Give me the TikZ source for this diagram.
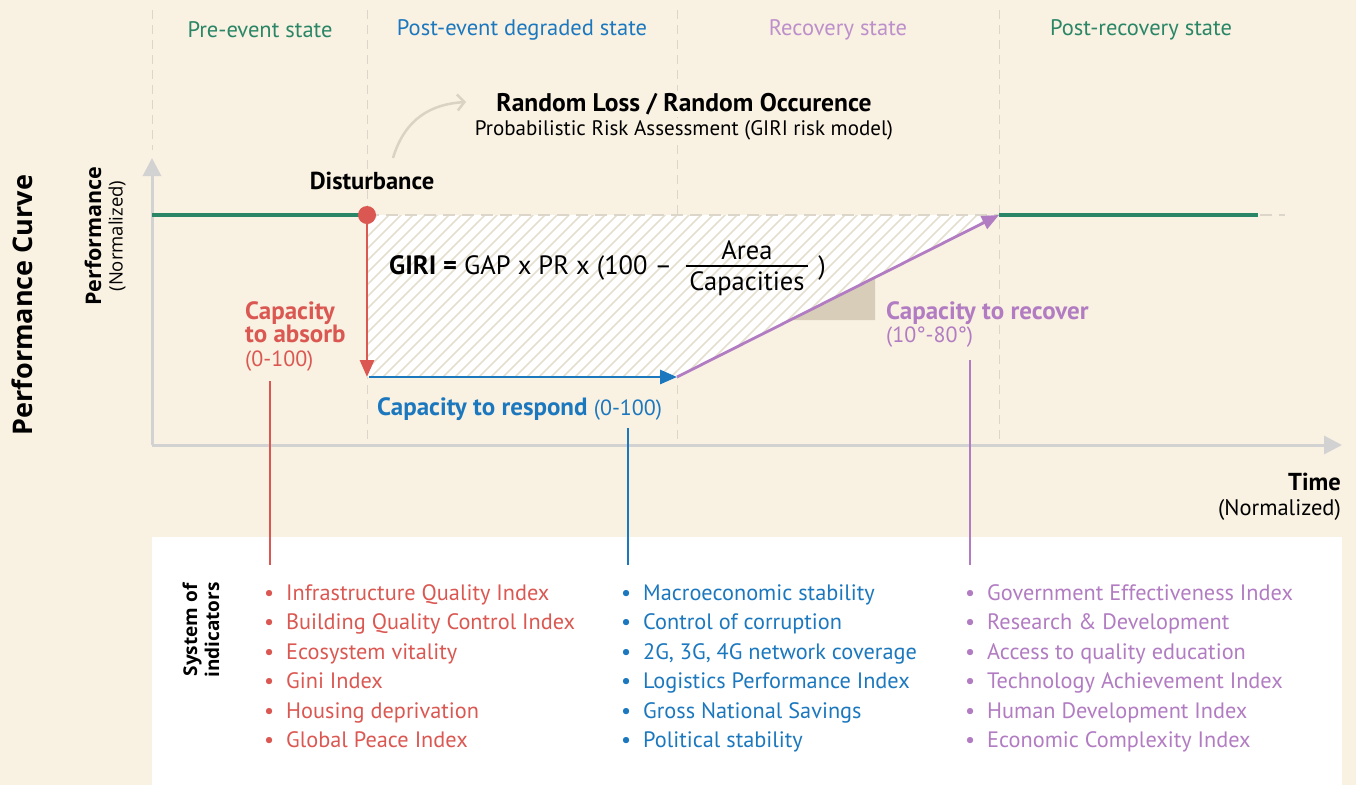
\documentclass[tikz,border=0pt]{standalone}
\usepackage{fontspec}
\setmainfont{PT Sans}
\newfontfamily\widefont{Open Sans}
\usetikzlibrary{arrows.meta}
\definecolor{bgcream}{RGB}{249,241,226}
\definecolor{girired}{RGB}{219,88,82}
\definecolor{giriblue}{RGB}{28,120,190}
\definecolor{giripurple}{RGB}{178,124,194}
\definecolor{girigreen}{RGB}{42,134,102}
\definecolor{axisgray}{RGB}{210,210,210}
\definecolor{dashgray}{RGB}{220,214,202}
\definecolor{hatchtan}{RGB}{230,223,207}
\definecolor{slopetan}{RGB}{215,205,184}
\definecolor{arcgray}{RGB}{218,210,194}
\newcommand{\subnumfont}{\fontsize{22}{23.5}\selectfont\mdseries}
\tikzset{
  statelab/.style={font=\fontsize{22.5}{26}\selectfont},
  sepline/.style={draw=dashgray, line width=1pt, dash pattern=on 9pt off 6pt},
  axisline/.style={draw=axisgray, line width=3pt,
                   -{Triangle[length=18pt,width=18pt]}},
  perfline/.style={draw=girigreen, line width=3.5pt},
  topdash/.style={draw=dashgray, line width=2.5pt, dash pattern=on 12pt off 7pt},
  capline/.style={line width=2.8pt, -{Triangle[length=17pt,width=14pt]}},
  hatch/.style={draw=hatchtan, line width=1.6pt},
  distdot/.style={circle, fill=girired, minimum size=18pt, inner sep=0pt},
  boldlab/.style={font=\fontsize{24.5}{26}\selectfont\bfseries},
  sublab/.style={font=\fontsize{21}{25}\selectfont},
  caplab/.style={font=\fontsize{25}{23.5}\selectfont\bfseries, align=left, inner sep=0pt},
  formula/.style={font=\fontsize{26.5}{28}\selectfont, inner sep=1pt},
  riskarc/.style={draw=arcgray, line width=2.5pt,
                  -{Straight Barb[length=7pt,width=16pt,line width=2.5pt]}},
  linkline/.style={line width=1.5pt},
  indlist/.style={font=\fontsize{22.3}{29.5}\selectfont, align=left,
                  anchor=north west, inner sep=0pt},
  sidelab/.style={font=\widefont\bfseries, rotate=90}
}

\begin{document}
\begin{tikzpicture}[x=1pt,y=-1pt]
  \fill[bgcream] (0,0) rectangle (1356,785);
  \useasboundingbox (0,0) rectangle (1356,785);
  \fill[white] (152,537) rectangle (1342,785);
  % state columns
  \draw[sepline] (152,10) -- (152,150);
  \draw[sepline] (367,10) -- (367,445);
  \draw[sepline] (677,10) -- (677,445);
  \draw[sepline] (999,10) -- (999,445);
  \node[statelab, text=girigreen] (prestate) at (260,30) {Pre-event state};
  \node[statelab, text=giriblue] (degstate) at (522,30) {Post-event degraded state};
  \node[statelab, text=giripurple!85] (recstate) at (838,30) {Recovery state};
  \node[statelab, text=girigreen] (poststate) at (1141,30) {Post-recovery state};
  % risk model
  \node[fill=bgcream, inner sep=2pt, font=\fontsize{25.5}{27}\selectfont\bfseries]
    (randloss) at (684,104) {Random Loss / Random Occurence};
  \node[sublab, fill=bgcream, inner sep=2pt] (prarisk) at (684,130)
    {Probabilistic Risk Assessment (GIRI risk model)};
  \draw[riskarc] (393,158) .. controls (405,118) and (432,104) .. (466,102);
  % axes
  \coordinate (origin) at (152,445);
  \coordinate (ytop) at (152,158);
  \coordinate (xend) at (1342,445);
  \draw[axisline] (origin) -- (ytop);
  \draw[axisline] (origin) -- (xend);
  % loss area
  \coordinate (dist) at (367,215);
  \coordinate (low) at (367,377);
  \coordinate (resp) at (677,377);
  \coordinate (rec) at (999,215);
  \fill[white] (dist) -- (low) -- (resp) -- (rec) -- cycle;
  \begin{scope}
    \clip (dist) -- (low) -- (resp) -- (rec) -- cycle;
    \foreach \k in {0,...,60}
      \draw[hatch] (180+\k*12,400) -- ++(200,-200);
  \end{scope}
  \fill[slopetan] (790,320) -- (875,320) -- (875,278) -- cycle;
  \draw[topdash] (dist) -- (1285,215);
  \draw[perfline] (152,215) -- (dist);
  \draw[perfline] (rec) -- (1258,215);
  \draw[capline, girired] (dist) -- (low);
  \draw[capline, giriblue] ([xshift=2pt]low) -- (resp);
  \draw[capline, giripurple] (resp) -- (rec);
  \node[distdot] (distpt) at (dist) {};
  \node[boldlab] (disturb) at (372,181) {Disturbance};
  % GIRI formula
  \node[formula, anchor=west] (giri) at (388,268) {\textbf{GIRI =} GAP x PR x (100 --};
  \node[formula] (area) at (747,250) {Area};
  \node[formula] (capas) at (747,284) {Capacities};
  \draw[line width=1.6pt] (686,266) -- (808,266);
  \node[formula] (giriclose) at (822,268) {)};
  % capacities
  \node[caplab, text=girired, anchor=north west] (absorb) at (245,301)
    {Capacity\\to absorb\\{\subnumfont(0-100)}};
  \node[caplab, text=giriblue, anchor=west] (respond) at (377,409)
    {Capacity to respond {\subnumfont(0-100)}};
  \node[caplab, text=giripurple, anchor=north west] (recover) at (886,301)
    {Capacity to recover\\{\subnumfont(10°-80°)}};
  % axis labels
  \node[sidelab, font=\widefont\bfseries\fontsize{27}{29}\selectfont] (perfcurve) at (22,305) {Performance Curve};
  \node[sidelab, font=\widefont\bfseries\fontsize{21.5}{22}\selectfont] (perfax) at (93,236) {Performance};
  \node[sidelab, font=\widefont\fontsize{18.5}{20}\selectfont] (perfnorm) at (117,236) {(Normalized)};
  \node[font=\fontsize{24.5}{25}\selectfont, align=right, anchor=north east, inner sep=0pt]
    (timeax) at (1341,473) {\textbf{Time}\\{\fontsize{22.5}{25}\selectfont(Normalized)}};
  % links to indicators
  \coordinate (absorbend) at (270,565);
  \coordinate (respondend) at (628,565);
  \coordinate (recoverend) at (970,565);
  \draw[linkline, girired] (270,381) -- (absorbend);
  \draw[linkline, giriblue] (628,428) -- (respondend);
  \draw[linkline, giripurple] (970,360) -- (recoverend);
  % system of indicators
  \node[sidelab, font=\widefont\bfseries\fontsize{19}{22}\selectfont, align=center]
    (sysind) at (201,630) {System of\\indicators};
  \node[indlist, text=girired] (absorblist) at (264,584)
    {\textbullet\ \ Infrastructure Quality Index\\
     \textbullet\ \ Building Quality Control Index\\
     \textbullet\ \ Ecosystem vitality\\
     \textbullet\ \ Gini Index\\
     \textbullet\ \ Housing deprivation\\
     \textbullet\ \ Global Peace Index};
  \node[indlist, text=giriblue] (respondlist) at (621,584)
    {\textbullet\ \ Macroeconomic stability\\
     \textbullet\ \ Control of corruption\\
     \textbullet\ \ 2G, 3G, 4G network coverage\\
     \textbullet\ \ Logistics Performance Index\\
     \textbullet\ \ Gross National Savings\\
     \textbullet\ \ Political stability};
  \node[indlist, text=giripurple] (recoverlist) at (965,584)
    {\textbullet\ \ Government Effectiveness Index\\
     \textbullet\ \ Research \& Development\\
     \textbullet\ \ Access to quality education\\
     \textbullet\ \ Technology Achievement Index\\
     \textbullet\ \ Human Development Index\\
     \textbullet\ \ Economic Complexity Index};
\end{tikzpicture}
\end{document}
